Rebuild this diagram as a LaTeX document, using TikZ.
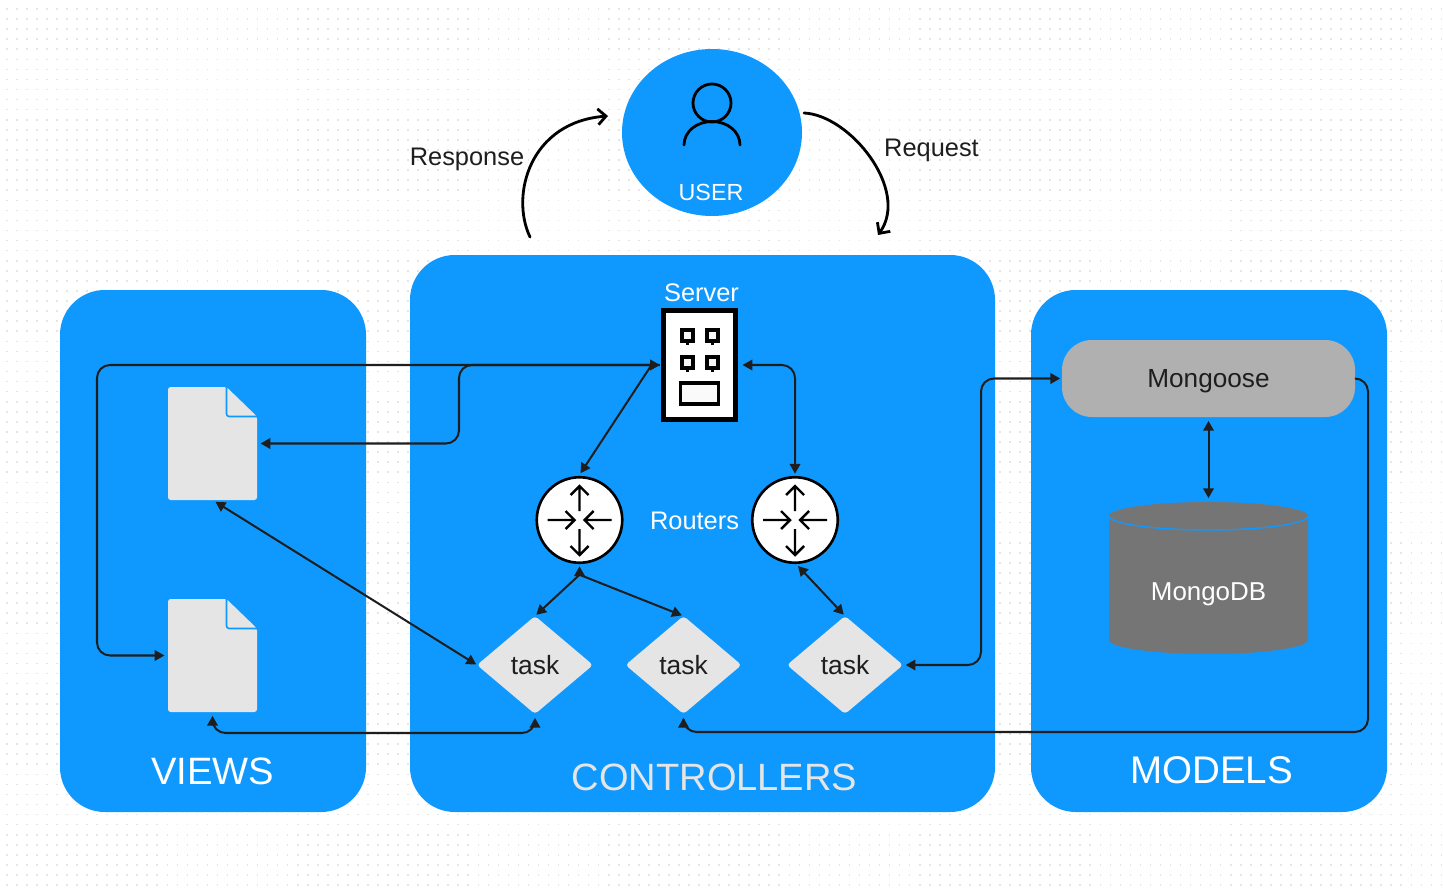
\documentclass[tikz,border=0pt]{standalone}
\usepackage{fontspec}
\setmainfont{Liberation Sans}
\usetikzlibrary{arrows.meta,shapes.geometric,calc}
\definecolor{panelblue}{HTML}{0F99FF}
\definecolor{ink}{HTML}{1E1E1E}
\definecolor{paper}{HTML}{E5E5E5}
\newcommand\uu{0.02cm}
\newcommand\fpx[1]{\fontsize{\fpeval{#1*0.5669}pt}{\fpeval{#1*0.7}pt}\selectfont}
\tikzset{
  x=0.02cm,y=-0.02cm,
  panel/.style={fill=panelblue,draw=none,rounded corners=25.5pt},
  lab/.style={inner sep=0,outer sep=0,text=ink,text depth=0pt,font=\fpx{25.5}},
  wlab/.style={lab,text=white},
  biglab/.style={lab,text=white,font=\fpx{38}},
  conn/.style={draw=ink,line width=1.15pt,rounded corners=7.4pt,
    >={Triangle[length=5.6pt,width=6pt]}},
  diag/.style={draw=ink,line width=1.15pt,>={Triangle[length=5.6pt,width=6pt]}},
  sweep/.style={draw=black,line width=1.6pt,line cap=round,
    -{Straight Barb[length=4.6pt,width=9pt,line width=1.6pt]}},
  anchorbox/.style={inner sep=0,outer sep=0,minimum width=#1*\uu},
  router/.style={circle,draw=black,line width=1.5pt,fill=white,inner sep=0,outer sep=0,minimum size=85.5*\uu},
  taskbox/.style={diamond,fill=paper,rounded corners=2pt,inner sep=0,outer sep=0,
    minimum width=116*\uu,minimum height=98*\uu,text=ink,font=\fpx{26.5}},
  doc/.style={fill=paper,rounded corners=1.5pt},
  glyph/.style={draw=black,line width=1.8pt,line cap=butt},
}
\begin{document}
\begin{tikzpicture}
\useasboundingbox (0,0) rectangle (1443,895);
\fill[white] (0,0) rectangle (1443,895);
% dotted paper
\foreach \k in {0,...,87}{
  \draw[draw=black!10,line width=0.9pt,dash pattern=on 0.9pt off 4.81pt]
    (6,{9+10.07*\k}) -- (1443,{9+10.07*\k});
}
% panels
\fill[panel] (60,290) rectangle (366,812);
\fill[panel] (410,255) rectangle (995,812);
\fill[panel] (1031,290) rectangle (1387,812);
\node[biglab,font=\fpx{38.3}] (viewsl) at (212.5,771) {VIEWS};
\node[biglab,text=paper,font=\fpx{38.2}] (ctrll) at (714.5,777) {CONTROLLERS};
\node[biglab,font=\fpx{38.7}] (modelsl) at (1211.5,770) {MODELS};
% user
\node[ellipse,fill=panelblue,inner sep=0,outer sep=0,minimum width=180*\uu,minimum height=167*\uu] (user) at (712,132.5) {};
\draw[black,line width=1.6pt] (712,103) circle[radius=19];
\draw[black,line width=1.6pt,line cap=round] (684,145) .. controls (684,131.7) and (696.5,121.5) .. (712,121.5) .. controls (727.5,121.5) and (740,131.7) .. (740,145);
\node[wlab,font=\fpx{23.4}] (userl) at (711,192) {USER};
\coordinate (respS) at (530,237);
\coordinate (respE) at (608,116);
\coordinate (reqS) at (804,113);
\coordinate (reqE) at (878,235);
\draw[sweep] (respS) .. controls (510,195) and (530,122) .. (respE);
\draw[sweep] (reqS) .. controls (850,115) and (910,190) .. (reqE);
\node[lab] (respl) at (467,157) {Response};
\node[lab] (reql) at (931.5,148) {Request};
% server
\node[wlab] (srvl) at (701.5,292.5) {Server};
\node[rectangle,draw=black,fill=white,line width=2.3pt,inner sep=0,outer sep=0,minimum width=72*\uu,minimum height=109*\uu] (srv) at (699.5,365) {};
\foreach \xa in {682,707}{\foreach \ya in {330,357}{
  \draw[glyph,fill=black!4] (\xa,\ya) rectangle ++(11,11);
  \draw[glyph] ({\xa+5.5},{\ya+11}) -- ++(0,4);
}}
\draw[glyph,fill=black!2] (680.5,383) rectangle (718.5,404);
% routers
\node[router] (r1) at (579.5,520) {};
\node[router] (r2) at (795,520) {};
\foreach \c in {r1,r2}{
  \begin{scope}[shift={(\c)},line width=1.4pt,draw=black]
    \draw (0,-9) -- (0,-34) (-9,-25) -- (0,-34) -- (9,-25);
    \draw (0,9) -- (0,35) (-9,26) -- (0,35) -- (9,26);
    \draw (-32,0) -- (-5,0) (-14,-9) -- (-5,0) -- (-14,9);
    \draw (32,0) -- (5,0) (14,-9) -- (5,0) -- (14,9);
  \end{scope}
}
\node[wlab] (routl) at (694.5,521) {Routers};
% documents
\node[anchorbox=89,minimum height=113*\uu] (f1) at (212.5,443.5) {};
\node[anchorbox=89,minimum height=113*\uu] (f2) at (212.5,655.5) {};
\foreach \f in {f1,f2}{
  \begin{scope}[shift={(\f)}]
    \fill[doc] (-44.5,-56.5) -- (14,-56.5) -- (44.5,-27) -- (44.5,56.5) -- (-44.5,56.5) -- cycle;
    \draw[panelblue,line width=0.9pt,rounded corners=1.5pt] (14,-56.5) -- (14,-27) -- (44.5,-27);
  \end{scope}
}
% tasks
\node[taskbox] (t1) at (535,665) {task};
\node[taskbox] (t2) at (683.5,665) {task};
\node[taskbox] (t3) at (845,665) {task};
% mongoose
\node[rectangle,fill=black!31,rounded corners=17pt,inner sep=0,outer sep=0,minimum width=293*\uu,minimum height=77*\uu,text=ink,text depth=0pt,font=\fpx{26.3}] (mg) at (1208.5,378.5) {Mongoose};
% mongodb
\node[anchorbox=199,minimum height=152*\uu] (db) at (1208.5,578) {};
\fill[black!54] (1109,516) -- (1109,640) .. controls (1109,647.7) and (1153.5,654) .. (1208.5,654) .. controls (1263.5,654) and (1308,647.7) .. (1308,640) -- (1308,516) -- cycle;
\fill[black!54] (1208.5,516) ellipse[x radius=99.5,y radius=14];
\draw[panelblue,line width=0.8pt] (1109,516) .. controls (1109,523.7) and (1153.5,530) .. (1208.5,530) .. controls (1263.5,530) and (1308,523.7) .. (1308,516);
\node[wlab,font=\fpx{26}] (dbl) at (1208.5,591.5) {MongoDB};
% connectors
\coordinate (wl) at (97,500);
\coordinate (wm) at (459,400);
\coordinate (wr) at (981,500);
\coordinate (wb) at (400,733);
\coordinate (cr) at (1368,732);
\coordinate (fork) at ($(r1.south)+(0,12)$);
\draw[conn,->,shorten <=2pt,shorten >=2pt] (srv.west) -| (wl) |- (f2.west);
\draw[conn,<->,shorten <=2pt,shorten >=2pt] (srv.west) -| (wm) |- (f1.east);
\draw[diag,->] ($(srv.west)+(-12,0)$) -- ($(r1.north)+(1,-4)$);
\draw[conn,<->,shorten <=4pt,shorten >=2pt] (srv.east) -| (r2.north);
\draw[diag,->,shorten >=1pt] (fork) -- (t1.north);
\draw[diag,->,shorten >=2pt] (fork) -- (r1.south);
\draw[diag,->,shorten >=1pt] (fork) -- (t2.north);
\draw[diag,<->,shorten <=2.5pt,shorten >=1pt] (r2.south) -- (t3.north);
\draw[conn,<->,shorten <=1.5pt,shorten >=1pt] (t3.east) -| (wr) |- (mg.west);
\draw[diag,<->,shorten <=2pt,shorten >=0.5pt] (f1.south) -- (t1.west);
\draw[conn,<->,shorten <=2.2pt,shorten >=2.2pt] (f2.south) |- (wb) -| (t1.south);
\draw[conn,->,shorten >=2.2pt] (mg.east) -| (cr) -| (t2.south);
\draw[diag,<->,shorten <=2.2pt,shorten >=2.2pt] (mg.south) -- (db.north);
\end{tikzpicture}
\end{document}
